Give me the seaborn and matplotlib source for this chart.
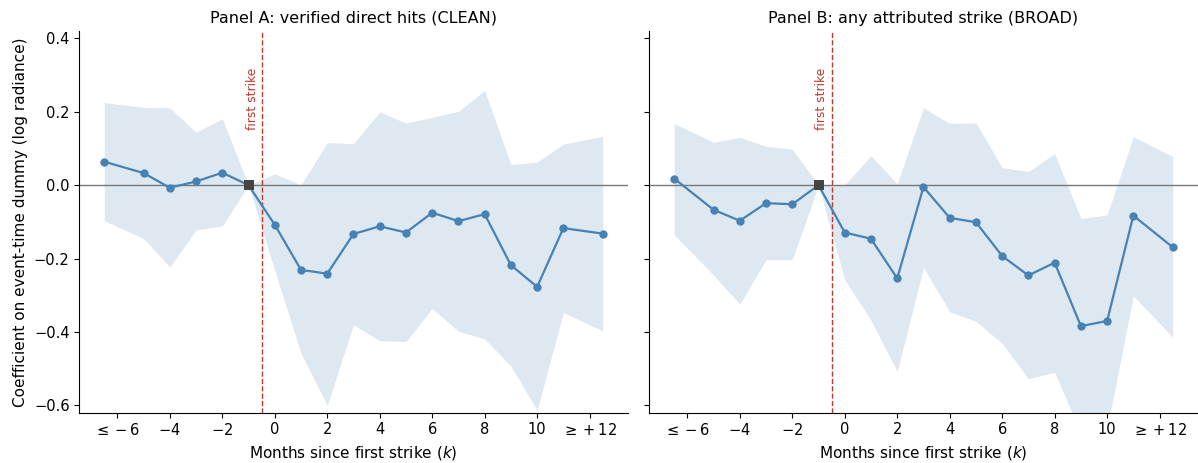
import numpy as np
import pandas as pd
import matplotlib
matplotlib.use("Agg")
import matplotlib.pyplot as plt
import seaborn as sns

# Event-time positions (binned endpoints drawn just outside the tick they label)
k_pos = [-6.5, -5, -4, -3, -2, -1, 0, 1, 2, 3, 4, 5, 6, 7, 8, 9, 10, 11, 12.5]

# Panel A: verified direct hits (CLEAN)
coef_a = [0.064, 0.033, -0.007, 0.010, 0.034, 0.0, -0.108, -0.231, -0.241, -0.133,
          -0.112, -0.129, -0.075, -0.098, -0.079, -0.218, -0.277, -0.117, -0.132]
hi_a = [0.225, 0.212, 0.211, 0.144, 0.181, 0.0, 0.031, 0.001, 0.116, 0.113,
        0.200, 0.169, 0.185, 0.201, 0.258, 0.056, 0.063, 0.112, 0.133]
lo_a = [-0.097, -0.145, -0.223, -0.122, -0.111, 0.0, -0.233, -0.458, -0.600, -0.380,
        -0.424, -0.426, -0.336, -0.398, -0.419, -0.493, -0.613, -0.347, -0.397]

# Panel B: any attributed strike (BROAD)
coef_b = [0.018, -0.067, -0.097, -0.049, -0.052, 0.0, -0.129, -0.146, -0.254, -0.005,
          -0.089, -0.101, -0.193, -0.246, -0.211, -0.384, -0.370, -0.083, -0.169]
hi_b = [0.168, 0.117, 0.130, 0.106, 0.098, 0.0, 0.001, 0.080, 0.004, 0.211,
        0.168, 0.170, 0.048, 0.037, 0.086, -0.091, -0.081, 0.132, 0.078]
lo_b = [-0.135, -0.245, -0.324, -0.203, -0.203, 0.0, -0.258, -0.368, -0.508, -0.224,
        -0.345, -0.371, -0.431, -0.527, -0.510, -0.675, -0.663, -0.302, -0.414]

tick_pos = [-6, -4, -2, 0, 2, 4, 6, 8, 10, 12]
tick_labels = [r"$\leq -6$", "$-4$", "$-2$", "0", "2", "4", "6", "8", "10", r"$\geq +12$"]

titles = ["Panel A: verified direct hits (CLEAN)", "Panel B: any attributed strike (BROAD)"]
ref_k = -1
strike_line = -0.5

sns.set_style("ticks")
plt.rcParams.update({
    "font.family": ["DejaVu Sans"],
    "font.size": 10,
    "axes.labelsize": 11,
    "xtick.labelsize": 10.5,
    "ytick.labelsize": 10.5,
    "text.color": "black",
    "axes.labelcolor": "black",
    "axes.edgecolor": "black",
    "xtick.color": "black",
    "ytick.color": "black",
    "axes.linewidth": 0.8,
})

line_color = "steelblue"

fig, axes = plt.subplots(1, 2, figsize=(11.98, 4.63), dpi=100, sharey=True)
fig.subplots_adjust(left=0.0662, right=0.9997, top=0.933, bottom=0.1086, wspace=0.0394)

panels = [(coef_a, lo_a, hi_a), (coef_b, lo_b, hi_b)]
for ax, (coef, lo, hi), title in zip(axes, panels, titles):
    df = pd.DataFrame({"k": k_pos, "coef": coef, "lo": lo, "hi": hi})
    ax.fill_between(df["k"], df["lo"], df["hi"], color=line_color, alpha=0.18, linewidth=0)
    ax.axhline(0, color="#777777", linewidth=1.0, zorder=1)
    sns.lineplot(data=df, x="k", y="coef", ax=ax, color=line_color, marker="o",
                 markersize=6, markeredgewidth=0, linewidth=1.6, zorder=3)
    ref = df[df["k"] == ref_k]
    ax.scatter(ref["k"], ref["coef"], marker="s", s=55, color="#444444", zorder=4,
               linewidths=0)
    ax.axvline(strike_line, color="#c0392b", linestyle="--", linewidth=1.0, zorder=2)
    ax.text(strike_line - 0.12, 0.32, "first strike", rotation=90, color="#c0392b",
            fontsize=8.8, ha="right", va="top")
    ax.set_xticks(tick_pos)
    ax.set_xticklabels(tick_labels)
    ax.set_xlabel("Months since first strike ($k$)")
    ax.set_ylabel("")
    ax.set_title(title, fontsize=11.5)
    ax.set_ylim(-0.62, 0.42)
    sns.despine(ax=ax)

axes[0].set_ylabel("Coefficient on event-time dummy (log radiance)")
axes[0].set_yticks([-0.6, -0.4, -0.2, 0.0, 0.2, 0.4])

fig.savefig("out.png", dpi=100)
